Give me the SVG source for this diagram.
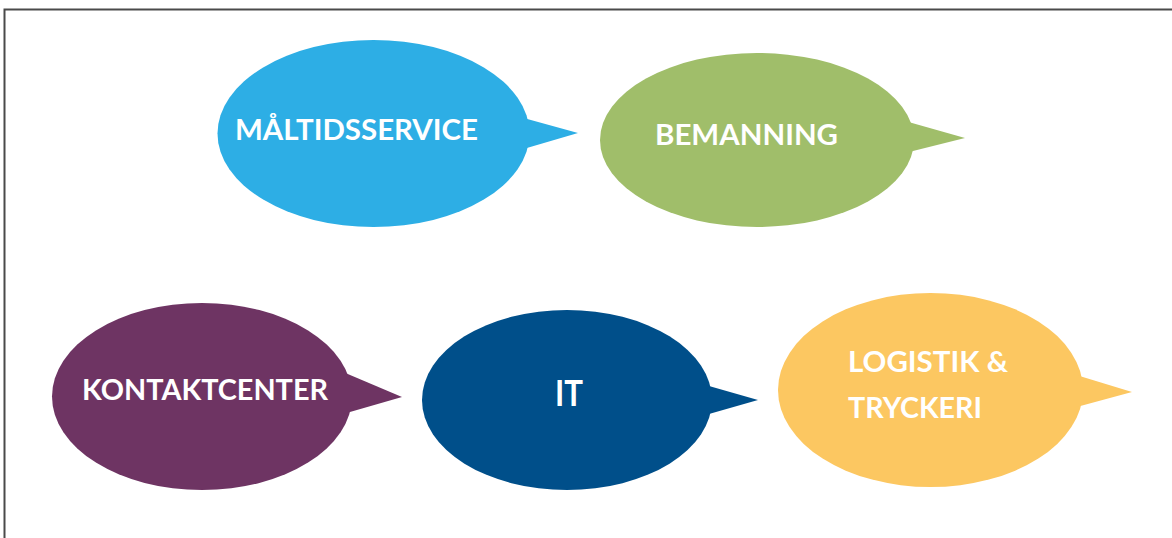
<svg xmlns="http://www.w3.org/2000/svg" width="1172" height="538" viewBox="0 0 1172 538">
<style>
.lbl{font-family:Lato,"Liberation Sans",sans-serif;font-weight:bold;font-size:28px;fill:#ffffff}
.frame{stroke:#4a4a4a;stroke-width:2;fill:none}
</style>
<rect width="1172" height="538" fill="#ffffff"/>
<path class="frame" d="M4.5,540 V9.5 H1175"/>
<g id="connectors"></g>
<g id="maltidsservice" fill="#2DAEE5">
<ellipse cx="373.5" cy="133.5" rx="156" ry="93.5"/>
<polygon points="520,117 578,133 520,150"/>
<text class="lbl" x="235" y="140" textLength="243" lengthAdjust="spacingAndGlyphs">MÅLTIDSSERVICE</text>
</g>
<g id="bemanning" fill="#A0BE6A">
<ellipse cx="757" cy="140" rx="157" ry="87"/>
<polygon points="905,121 965,138 905,153"/>
<text class="lbl" x="655" y="145" textLength="183" lengthAdjust="spacingAndGlyphs">BEMANNING</text>
</g>
<g id="kontaktcenter" fill="#6E3463">
<ellipse cx="202" cy="396.5" rx="150" ry="93.5"/>
<polygon points="343,372 402,397 343,414"/>
<text class="lbl" x="82" y="400" textLength="246" lengthAdjust="spacingAndGlyphs">KONTAKTCENTER</text>
</g>
<g id="it" fill="#004F8A">
<ellipse cx="567" cy="400" rx="145" ry="90"/>
<polygon points="702,384 758,400 702,416"/>
<text class="lbl" x="555" y="406" style="font-size:36px" textLength="28" lengthAdjust="spacingAndGlyphs">IT</text>
</g>
<g id="logistik" fill="#FCC761">
<ellipse cx="930.5" cy="390" rx="152.5" ry="97"/>
<polygon points="1073,374 1132,392 1073,408"/>
<text class="lbl" x="848" y="372" textLength="160" lengthAdjust="spacingAndGlyphs">LOGISTIK &amp;</text>
<text class="lbl" x="848" y="418" textLength="134" lengthAdjust="spacingAndGlyphs">TRYCKERI</text>
</g>
</svg>
